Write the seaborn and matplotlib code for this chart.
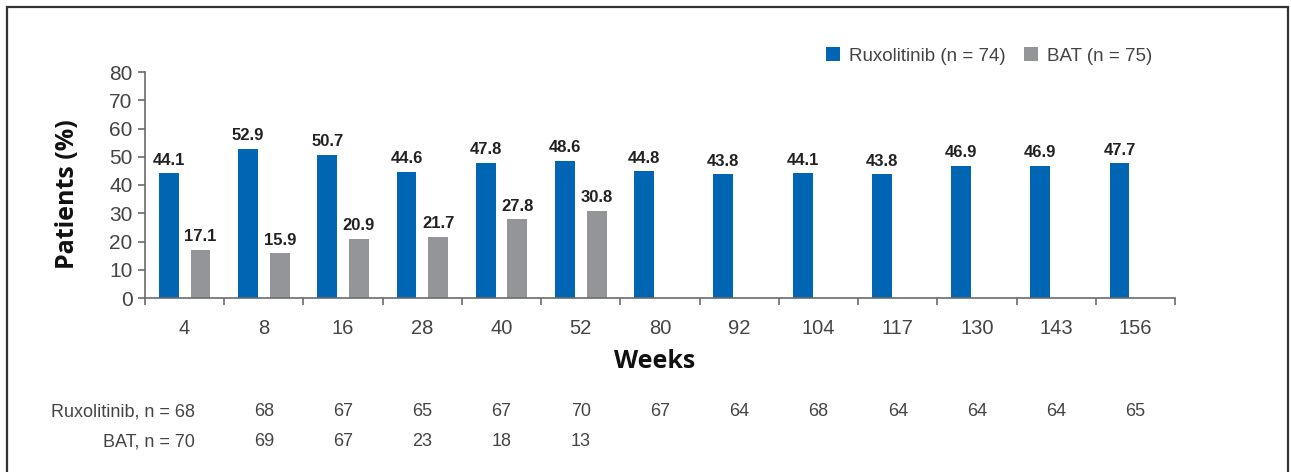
import matplotlib
matplotlib.use("Agg")
import matplotlib.pyplot as plt
import matplotlib.transforms as mtransforms
from matplotlib.patches import Rectangle
import numpy as np
import pandas as pd
import seaborn as sns

# Response rate by study week
weeks = ["4", "8", "16", "28", "40", "52", "80", "92", "104", "117", "130", "143", "156"]
rux_pct = [44.1, 52.9, 50.7, 44.6, 47.8, 48.6, 44.8, 43.8, 44.1, 43.8, 46.9, 46.9, 47.7]
bat_pct = [17.1, 15.9, 20.9, 21.7, 27.8, 30.8]

# Patients evaluable at each visit
rux_n = [68, 68, 67, 65, 67, 70, 67, 64, 68, 64, 64, 64, 65]
bat_n = [70, 69, 67, 23, 18, 13]

arms = ["Ruxolitinib (n = 74)", "BAT (n = 75)"]
row_names = ["Ruxolitinib", "BAT"]

BLUE = "#0066B3"
GREY = "#939598"
TEXT = "#444444"
AXIS = "#6b6b6b"

df = pd.concat([
    pd.DataFrame({"week": weeks, "pct": rux_pct, "arm": arms[0]}),
    pd.DataFrame({"week": weeks[:len(bat_pct)], "pct": bat_pct, "arm": arms[1]}),
], ignore_index=True)

sns.set_theme(style="white")
plt.rcParams["font.family"] = ["Liberation Sans", "DejaVu Sans"]

W, H = 1291, 472
fig = plt.figure(figsize=(W / 100, H / 100), dpi=100)
ax = fig.add_axes([145 / W, 1 - 298 / H, (1175 - 145) / W, (298 - 72) / H])

sns.barplot(data=df, x="week", y="pct", hue="arm", order=weeks, hue_order=arms,
            palette=[BLUE, GREY], width=0.8, gap=0.375, saturation=1,
            linewidth=0, ax=ax)

for cont in ax.containers:
    ax.bar_label(cont, fmt="%.1f", padding=4, fontsize=12, fontweight="bold",
                 color="#222222")

ax.set_xlim(-0.5, len(weeks) - 0.5)
ax.set_ylim(0, 80)
ax.set_yticks(np.arange(0, 81, 10))
ax.set_xlabel("")
ax.set_ylabel("")

for side in ("top", "right"):
    ax.spines[side].set_visible(False)
for side in ("left", "bottom"):
    ax.spines[side].set_color(AXIS)
    ax.spines[side].set_linewidth(1.2)

ax.tick_params(axis="y", which="major", direction="out", length=5, width=1.2,
               color=AXIS, labelsize=15, labelcolor=TEXT, pad=4, left=True)
ax.set_xticks(np.arange(-0.5, len(weeks), 1.0), minor=True)
ax.tick_params(axis="x", which="minor", direction="out", length=5, width=1.2,
               color=AXIS, bottom=True)
ax.tick_params(axis="x", which="major", length=0, labelsize=14.5,
               labelcolor=TEXT, pad=15)

# Axis titles
fig.text(68 / W, 1 - 194 / H, "Patients (%)", rotation=90, ha="center",
         va="center", fontsize=18, fontweight="bold", family="Open Sans",
         color="#111111")
fig.text(655 / W, 1 - 362 / H, "Weeks", ha="center", va="center",
         fontsize=18, fontweight="bold", family="Open Sans", color="#111111")

# Legend across the top right
sns.move_legend(ax, loc="center", bbox_to_anchor=(989 / W, 1 - 56 / H),
                bbox_transform=fig.transFigure, ncol=2, frameon=False,
                title=None, fontsize=13.5, handlelength=0.75,
                handleheight=0.75, handletextpad=0.45, columnspacing=1.0,
                labelcolor=TEXT)

# Number of patients below the axis
trans = mtransforms.blended_transform_factory(ax.transData, fig.transFigure)
rows = [(row_names[0], rux_n, 1 - 412 / H), (row_names[1], bat_n, 1 - 442 / H)]
for name, counts, yf in rows:
    fig.text(0.13, yf, f"{name}, n = {counts[0]}", transform=trans,
             ha="right", va="center", fontsize=13, color=TEXT)
    for i, n in enumerate(counts[1:], start=1):
        fig.text(i, yf, str(n), transform=trans, ha="center", va="center",
                 fontsize=13, color=TEXT)

# Frame around the figure
fig.patches.append(Rectangle((7 / W, -0.05), (1288 - 7) / W, 1.05 - 7 / H,
                             transform=fig.transFigure, fill=False,
                             edgecolor="#333333", linewidth=1.6))

fig.savefig("out.png", dpi=100)
